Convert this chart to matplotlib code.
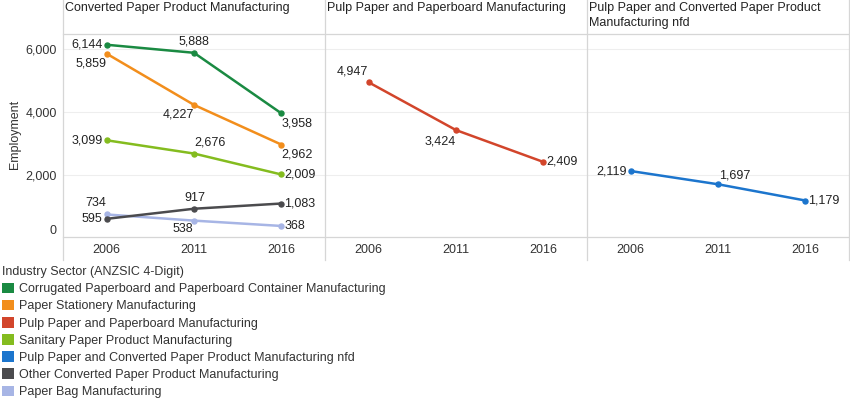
import matplotlib
matplotlib.use("Agg")
import matplotlib.pyplot as plt
from matplotlib.lines import Line2D
from matplotlib.patches import Patch

# ---------------- data ----------------
years = ["2006", "2011", "2016"]
corrugated = [6144, 5888, 3958]
stationery = [5859, 4227, 2962]
pulp_paperboard = [4947, 3424, 2409]
sanitary = [3099, 2676, 2009]
pulp_nfd = [2119, 1697, 1179]
other_converted = [595, 917, 1083]
paper_bag = [734, 538, 368]

series_names = [
    "Corrugated Paperboard and Paperboard Container Manufacturing",
    "Paper Stationery Manufacturing",
    "Pulp Paper and Paperboard Manufacturing",
    "Sanitary Paper Product Manufacturing",
    "Pulp Paper and Converted Paper Product Manufacturing nfd",
    "Other Converted Paper Product Manufacturing",
    "Paper Bag Manufacturing",
]
panel_titles = [
    "Converted Paper Product Manufacturing",
    "Pulp Paper and Paperboard Manufacturing",
    "Pulp Paper and Converted Paper Product\nManufacturing nfd",
]
legend_title = "Industry Sector (ANZSIC 4-Digit)"
y_ticks = [0, 2000, 4000, 6000]

# ---------------- style ----------------
colors = {
    series_names[0]: "#1a8a42",
    series_names[1]: "#f28e1c",
    series_names[2]: "#d2452b",
    series_names[3]: "#84bc1f",
    series_names[4]: "#1c75cd",
    series_names[5]: "#4b4b4e",
    series_names[6]: "#a7b5e5",
}
values = {
    series_names[0]: corrugated,
    series_names[1]: stationery,
    series_names[2]: pulp_paperboard,
    series_names[3]: sanitary,
    series_names[4]: pulp_nfd,
    series_names[5]: other_converted,
    series_names[6]: paper_bag,
}
panels = [
    [series_names[6], series_names[5], series_names[3], series_names[1], series_names[0]],
    [series_names[2]],
    [series_names[4]],
]
# label offsets in pixels: (dx, dy, ha) per point
label_pos = {
    series_names[0]: [(-4, 0, "right"), (0, 11, "center"), (0, -10, "left")],
    series_names[1]: [(0, -10, "right"), (0, -10, "right"), (0, -10, "left")],
    series_names[2]: [(-1, 11, "right"), (0, -11, "right"), (3, 0, "left")],
    series_names[3]: [(-4, 0, "right"), (0, 11, "left"), (3, 0, "left")],
    series_names[4]: [(-4, 0, "right"), (1, 9, "left"), (3, 0, "left")],
    series_names[5]: [(-4, 0, "right"), (1, 11, "center"), (3, 0, "left")],
    series_names[6]: [(0, 11, "right"), (-1, -8, "right"), (3, 0, "left")],
}

plt.rcParams["font.family"] = ["Liberation Sans", "DejaVu Sans"]
FS = 9
TXT = "#333333"
BORDER = "#d6d6d6"
GRID = "#eeeeee"

W, H = 850, 398
fig = plt.figure(figsize=(W / 100, H / 100), dpi=100)

top_px, bot_px = 34, 237.5
edges = [63, 325, 587, 849]
ymax = 6487

def fx(px):
    return px / W

def fy(py):
    return 1 - py / H

axes = []
for i in range(3):
    ax = fig.add_axes([fx(edges[i]), fy(bot_px), fx(edges[i + 1] - edges[i]), (bot_px - top_px) / H])
    axes.append(ax)
    x = list(range(len(years)))
    ax.set_xlim(-0.5, len(years) - 0.5)
    ax.set_ylim(0, ymax)
    for g in y_ticks[1:]:
        ax.axhline(g, color=GRID, lw=0.8, zorder=0)
    for name in panels[i]:
        vals = values[name]
        ax.plot(x, vals, color=colors[name], lw=1.8, marker="o", ms=3.6, zorder=3,
                solid_capstyle="round")
        for j, v in enumerate(vals):
            dx, dy, ha = label_pos[name][j]
            ax.annotate(f"{v:,}", (x[j], v), xytext=(dx, dy), textcoords="offset pixels",
                        ha=ha, va="center", fontsize=FS, color="#222222", zorder=5)
    ax.set_xticks(x)
    ax.set_xticklabels(years, fontsize=FS, color=TXT)
    ax.tick_params(axis="x", length=0, pad=4.5)
    if i == 0:
        ax.set_yticks(y_ticks)
        ax.set_yticklabels([f"{t:,}" for t in y_ticks], fontsize=FS, color=TXT)
        ax.tick_params(axis="y", length=0, pad=4.5)
        ax.get_yticklabels()[0].set_va("bottom")
    else:
        ax.set_yticks([])
    for s in ax.spines.values():
        s.set_visible(False)
    ax.patch.set_alpha(0)
    fig.text(fx(edges[i] + 2), fy(1.5), panel_titles[i], ha="left", va="top",
             fontsize=FS, color="#222222", linespacing=1.35)

# panel frame lines
for xe in edges:
    fig.add_artist(Line2D([fx(xe), fx(xe)], [fy(0), fy(260)], color=BORDER, lw=0.9))
for ye in (top_px, bot_px):
    fig.add_artist(Line2D([fx(edges[0]), fx(edges[-1])], [fy(ye), fy(ye)], color=BORDER, lw=0.9))

fig.text(fx(15), fy(134), "Employment", rotation=90, ha="center", va="center",
         fontsize=FS, color=TXT)

handles = [Patch(facecolor=colors[n], edgecolor="none") for n in series_names]
leg = fig.legend(handles, series_names, title=legend_title, loc="upper left",
                 bbox_to_anchor=(fx(2), fy(266)), frameon=False, fontsize=FS,
                 title_fontsize=FS, handlelength=0.95, handleheight=0.95,
                 handletextpad=0.4, labelspacing=0.36, borderpad=0, borderaxespad=0,
                 alignment="left")
for t in leg.get_texts():
    t.set_color(TXT)
leg.get_title().set_color(TXT)

fig.savefig("out.png", dpi=100)
